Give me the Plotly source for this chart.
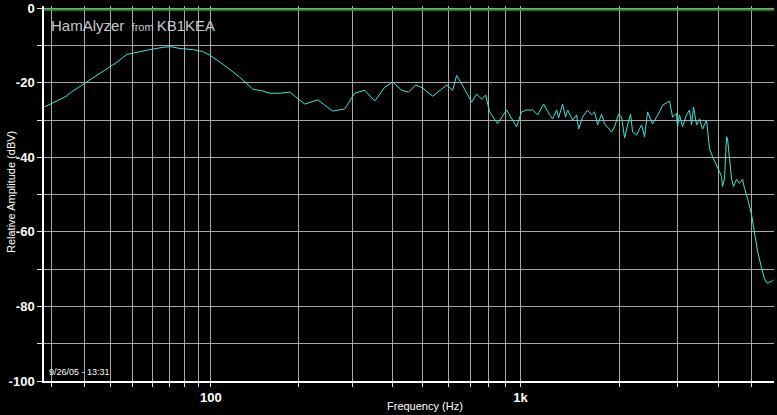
import math
import plotly.graph_objects as go

# Frequency axis of HamAlyzer is log-like with an offset (log10(f + 20))
FREQ_OFFSET = 20

freq_hz = [18, 23.8, 26.3, 31.3, 36.9, 42.7, 47.2, 51, 58.7, 66.1, 71, 76.9, 86, 93.5, 99.2,
           110.4, 116.8, 126.6, 140.4, 151.9, 160.4, 173.3, 187.1, 209.7, 231.3, 258.7, 282.8,
           304.5, 327.7, 352.6, 379.2, 401.9, 428.9, 451, 474.5, 499, 536, 564, 593, 618.5,
           636.4, 673.7, 708, 734, 760, 782, 804.5, 851, 907, 973.5, 1008, 1045, 1090, 1129,
           1177, 1228, 1254, 1290, 1308, 1345, 1374, 1393, 1443, 1484, 1505, 1547, 1602, 1648,
           1683, 1719, 1767, 1805, 1895, 1935, 1990, 2032, 2075, 2119, 2164, 2194, 2256, 2336,
           2385, 2436, 2522, 2593, 2648, 2704, 2839, 2899, 2980, 3001, 3043, 3107, 3195, 3262,
           3308, 3354, 3425, 3497, 3571, 3671, 3697, 3749, 3828, 3963, 4074, 4103, 4160, 4218,
           4248, 4307, 4367, 4428, 4521, 4616, 4714, 4779, 4880, 5017, 5123, 5230, 5377, 5490,
           5606, 5684, 5763, 5844]

amp_dbv = [-26.5, -23.8, -22.2, -19.6, -16.9, -14.5, -12.4, -11.9, -11.1, -10.5, -10.3, -10.8,
           -11.1, -11.6, -12.6, -15.0, -16.4, -18.5, -21.7, -22.2, -22.8, -22.8, -22.5, -25.7,
           -24.6, -27.6, -27.0, -22.8, -22.0, -24.9, -21.2, -19.8, -22.0, -22.5, -20.6, -21.4,
           -23.6, -22.0, -20.6, -22.0, -18.0, -21.7, -25.2, -23.0, -24.4, -23.3, -27.8, -31.0,
           -27.3, -31.8, -27.8, -27.3, -27.3, -28.6, -25.7, -28.6, -29.7, -27.3, -29.4, -25.7,
           -29.2, -27.3, -30.0, -28.6, -32.4, -29.2, -27.3, -28.6, -27.8, -31.3, -28.4, -31.0,
           -33.2, -31.8, -28.4, -29.2, -34.8, -31.3, -28.4, -33.2, -34.0, -31.3, -34.5, -27.8,
           -31.0, -29.2, -27.8, -26.0, -24.9, -29.2, -28.2, -31.8, -28.6, -31.8, -28.6, -27.3,
           -31.3, -26.5, -31.3, -29.7, -32.4, -30.0, -33.2, -37.7, -39.8, -43.0, -45.1, -47.8,
           -45.7, -34.5, -35.0, -40.3, -45.7, -47.8, -45.9, -47.0, -45.9, -48.3, -51.0, -55.3,
           -59.8, -65.1, -69.6, -72.6, -73.9, -73.4, -73.4, -72.8]

ref_freq = [18, 5900]
ref_db = [-0.4, -0.4]

grid_freqs = [20, 30, 40, 50, 60, 70, 80, 90, 100, 200, 300, 400, 500, 600, 700, 800, 900,
              1000, 2000, 3000, 4000, 5000]
grid_labels = {100: "100", 1000: "1k"}
y_ticks = [0, -10, -20, -30, -40, -50, -60, -70, -80, -90, -100]
y_labels = {0: "0", -20: "-20", -40: "-40", -60: "-60", -80: "-80", -100: "-100"}

x_min_hz, x_max_hz = 17.9, 5864

FONT = "Liberation Sans, Arial, sans-serif"

fig = go.Figure()
fig.add_trace(go.Scatter(x=[f + FREQ_OFFSET for f in ref_freq], y=ref_db, mode="lines",
                         line=dict(color="#1fa51f", width=2), hoverinfo="skip"))
fig.add_trace(go.Scatter(x=[f + FREQ_OFFSET for f in freq_hz], y=amp_dbv, mode="lines",
                         line=dict(color="#3fe6d6", width=1)))

fig.update_xaxes(
    type="log",
    range=[math.log10(x_min_hz + FREQ_OFFSET), math.log10(x_max_hz + FREQ_OFFSET)],
    tickvals=[g + FREQ_OFFSET for g in grid_freqs],
    ticktext=[grid_labels.get(g, "") for g in grid_freqs],
    showgrid=True, gridcolor="#a8a8a8", gridwidth=1,
    showline=True, linecolor="#ffffff", linewidth=1.5,
    ticks="outside", ticklen=4, tickcolor="#dddddd",
    tickfont=dict(family=FONT, size=13, color="#ffffff", weight="bold"),
    zeroline=False, mirror=False, automargin=False, ticklabeloverflow="allow",
)
fig.update_yaxes(
    range=[-100, 0.6],
    tickvals=y_ticks,
    ticktext=[y_labels.get(v, "") for v in y_ticks],
    showgrid=True, gridcolor="#a8a8a8", gridwidth=1,
    showline=True, linecolor="#ffffff", linewidth=1.5,
    ticks="outside", ticklen=5, tickcolor="#dddddd",
    tickfont=dict(family=FONT, size=13, color="#ffffff", weight="bold"),
    zeroline=False, automargin=False, ticklabeloverflow="allow",
)

fig.update_layout(
    width=777, height=415,
    margin=dict(l=44, r=3, t=6, b=34, autoexpand=False),
    paper_bgcolor="#000000", plot_bgcolor="#000000",
    showlegend=False,
    annotations=[
        dict(text="HamAlyzer <span style='font-size:11px'> from </span>KB1KEA",
             xref="paper", yref="paper", x=0.007, y=0.948, xanchor="left", yanchor="middle",
             showarrow=False, font=dict(family=FONT, size=15, color="#c8c8c8")),
        dict(text="9/26/05 - 13:31", xref="paper", yref="paper", x=0.004, y=0.005,
             xanchor="left", yanchor="bottom", showarrow=False,
             font=dict(family=FONT, size=9, color="#ffffff")),
        dict(text="Frequency (Hz)", xref="paper", yref="paper", x=0.522, y=-0.066,
             xanchor="center", yanchor="middle", showarrow=False,
             font=dict(family=FONT, size=11, color="#ffffff")),
        dict(text="Relative Amplitude (dBV)", xref="paper", yref="paper", x=-0.046, y=0.505,
             xanchor="center", yanchor="middle", showarrow=False, textangle=-90,
             font=dict(family=FONT, size=11, color="#ffffff")),
    ],
)

fig.write_html("out.html", config={"displayModeBar": False},
               post_script="document.body.style.margin='0';document.body.style.background='#000';")
